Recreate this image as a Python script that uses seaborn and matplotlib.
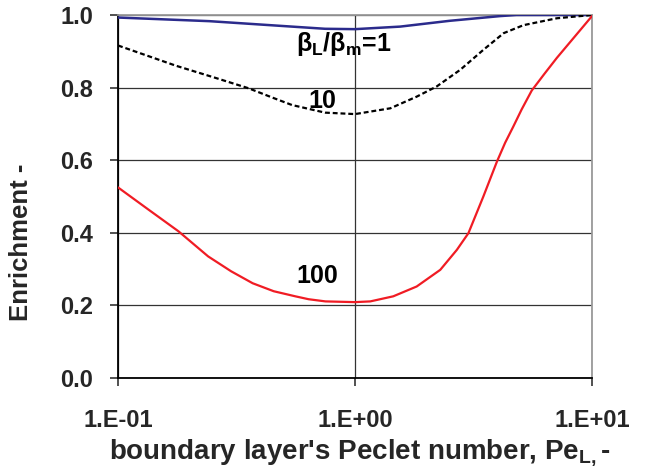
import numpy as np
import pandas as pd
import matplotlib
matplotlib.use("Agg")
import matplotlib.pyplot as plt
import seaborn as sns

# ---- data ----
pe_b1 = [0.1, 0.243, 0.542, 0.748, 1.0, 1.55, 2.51, 4.1, 4.8, 10.0]
enr_b1 = [0.993, 0.983, 0.968, 0.962, 0.961, 0.968, 0.984, 0.997, 1.0, 1.0]

pe_b10 = [0.1, 0.176, 0.26, 0.356, 0.45, 0.542, 0.748, 1.0, 1.41, 1.82, 2.21, 2.78, 3.48, 4.24, 5.14, 7.11, 10.0]
enr_b10 = [0.916, 0.86, 0.826, 0.798, 0.772, 0.752, 0.731, 0.727, 0.743, 0.775, 0.803, 0.849, 0.904, 0.95, 0.972, 0.991, 1.0]

pe_b100 = [0.1, 0.135, 0.18, 0.24, 0.30, 0.37, 0.454, 0.56, 0.637, 0.75, 1.0, 1.16, 1.45, 1.82,
           2.29, 2.69, 3.01, 3.48, 3.97, 4.3, 4.65, 5.05, 5.57, 6.3, 7.11, 10.0]
enr_b100 = [0.525, 0.463, 0.404, 0.335, 0.294, 0.261, 0.239, 0.225, 0.217, 0.211, 0.209, 0.211, 0.225, 0.252,
            0.298, 0.353, 0.399, 0.5, 0.596, 0.648, 0.692, 0.74, 0.792, 0.838, 0.882, 0.997]

x_ticks = [0.1, 1.0, 10.0]
x_tick_labels = ["1.E-01", "1.E+00", "1.E+01"]
y_ticks = [0.0, 0.2, 0.4, 0.6, 0.8, 1.0]
y_tick_labels = ["0.0", "0.2", "0.4", "0.6", "0.8", "1.0"]

curve_labels = ["β$_\\mathregular{L}$/β$_\\mathregular{m}$=1", "10", "100"]
label_pe = [0.9, 0.725, 0.695]
label_enr = [0.92, 0.762, 0.282]

x_label = "boundary layer's Peclet number, Pe$_\\mathregular{L,}$-"
y_label = "Enrichment -"

# ---- styling ----
sns.set_style("white")
plt.rcParams["font.family"] = ["Liberation Sans", "DejaVu Sans"]
plt.rcParams["font.weight"] = "bold"
plt.rcParams["mathtext.default"] = "regular"

fig = plt.figure(figsize=(6.46, 4.76), dpi=100)
ax = fig.add_axes([0.1827, 0.2059, 0.7337, 0.7626])

df1 = pd.DataFrame({"Pe": pe_b1, "E": enr_b1})
df10 = pd.DataFrame({"Pe": pe_b10, "E": enr_b10})
df100 = pd.DataFrame({"Pe": pe_b100, "E": enr_b100})

sns.lineplot(data=df1, x="Pe", y="E", ax=ax, color="#2b2b8c", lw=1.8, zorder=5)
sns.lineplot(data=df10, x="Pe", y="E", ax=ax, color="black", lw=1.6,
             linestyle=(0, (2.2, 1.3)), zorder=5)
sns.lineplot(data=df100, x="Pe", y="E", ax=ax, color="#f01c24", lw=1.6, zorder=5)

ax.set_xscale("log")
ax.set_xlim(0.1, 10.0)
ax.set_ylim(0.0, 1.0)
ax.set_xticks(x_ticks)
ax.set_xticklabels(x_tick_labels)
ax.xaxis.set_minor_locator(matplotlib.ticker.NullLocator())
ax.set_yticks(y_ticks)
ax.set_yticklabels(y_tick_labels)
ax.set_xlabel("")
ax.set_ylabel("")

ax.grid(True, which="major", color="#333333", lw=0.9, zorder=0)
ax.set_axisbelow(True)

for s in ["left", "bottom"]:
    ax.spines[s].set_color("black")
    ax.spines[s].set_linewidth(1.3)
for s in ["top", "right"]:
    ax.spines[s].set_color("#9a9a9a")
    ax.spines[s].set_linewidth(1.3)

ax.tick_params(axis="both", which="major", length=6, width=1.2, color="#333333",
               direction="out", labelsize=17, bottom=True, left=True)
ax.tick_params(axis="x", pad=16.5)
ax.tick_params(axis="y", pad=12)
for t in ax.get_xticklabels() + ax.get_yticklabels():
    t.set_fontweight("bold")

for lab, px, py in zip(curve_labels, label_pe, label_enr):
    ax.text(px, py, lab, ha="center", va="center", fontsize=18,
            fontweight="bold", color="black", zorder=6)

fig.text(360 / 646, 1 - 452 / 476, x_label, ha="center", va="center",
         fontsize=20, fontweight="bold")
fig.text(21 / 646, 1 - 242 / 476, y_label, ha="center", va="center",
         rotation=90, fontsize=18.5, fontweight="bold")

fig.savefig("out.png", dpi=100)
